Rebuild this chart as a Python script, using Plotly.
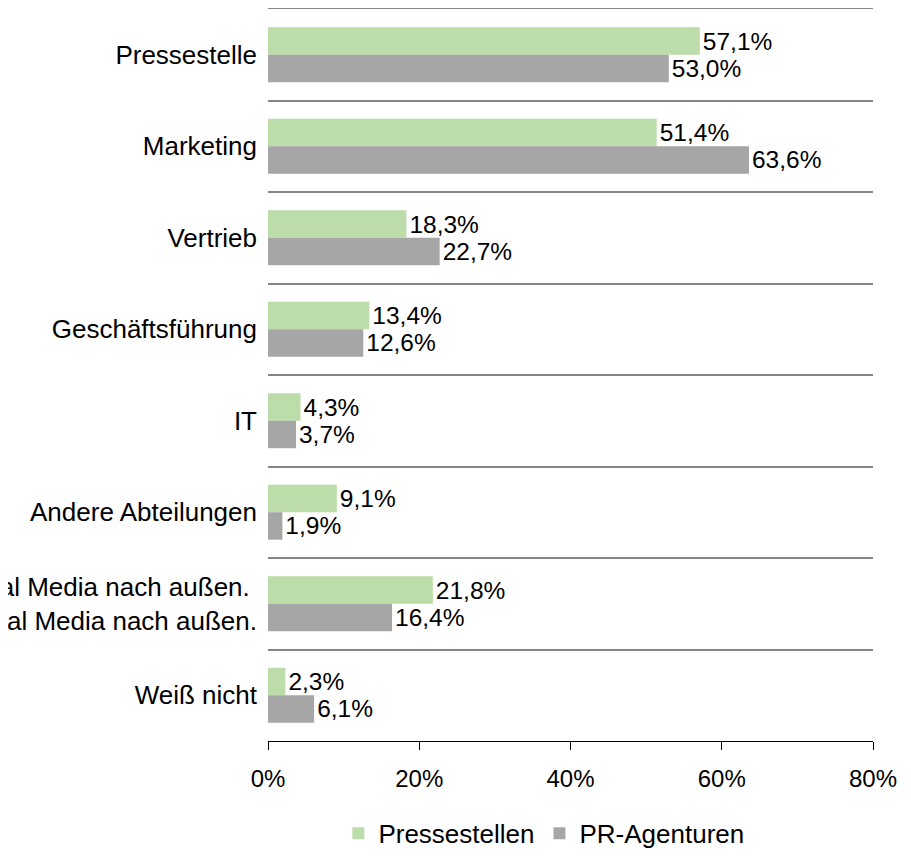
import plotly.graph_objects as go

categories = [
    "Pressestelle",
    "Marketing",
    "Vertrieb",
    "Geschäftsführung",
    "IT",
    "Andere Abteilungen",
    "Wir kommunizieren nicht über Social Media nach außen.\u00a0<br>Unsere Kunden kommunizieren nicht über Social Media nach außen.",
    "Weiß nicht",
]
pressestellen = [57.1, 51.4, 18.3, 13.4, 4.3, 9.1, 21.8, 2.3]
pr_agenturen = [53.0, 63.6, 22.7, 12.6, 3.7, 1.9, 16.4, 6.1]
x_ticks = [0, 20, 40, 60, 80]
x_tick_labels = [f"{v}%" for v in x_ticks]

FONT = "Liberation Sans, Arial, sans-serif"

fig = go.Figure()
fig.add_trace(go.Bar(
    name="Pressestellen", y=categories, x=pressestellen, orientation="h",
    marker=dict(color="#BCDCA9", line=dict(width=0)),
    texttemplate="%{x:.1f}%", textposition="outside",
    textfont=dict(size=24.5, color="black", family=FONT), cliponaxis=False,
))
fig.add_trace(go.Bar(
    name="PR-Agenturen", y=categories, x=pr_agenturen, orientation="h",
    marker=dict(color="#A6A6A6", line=dict(width=0)),
    texttemplate="%{x:.1f}%", textposition="outside",
    textfont=dict(size=24.5, color="black", family=FONT), cliponaxis=False,
))
# invisible helper trace so the top separator axis is drawn
fig.add_trace(go.Scatter(x=[0], y=[categories[0]], xaxis="x2", mode="markers",
                         marker=dict(opacity=0), showlegend=False, hoverinfo="skip"))

fig.update_layout(
    width=903, height=850,
    margin=dict(l=260, r=38, t=1, b=117),
    paper_bgcolor="white", plot_bgcolor="white",
    barmode="group", bargap=0.4, bargroupgap=0,
    separators=",.",
    font=dict(family=FONT, size=24, color="black"),
    showlegend=True,
    legend=dict(orientation="h", x=0.456, xanchor="center", y=-0.126, yanchor="middle",
                font=dict(size=26, color="black"), itemwidth=30, tracegroupgap=0),
    xaxis=dict(
        range=[0, 80], tickvals=x_ticks, ticktext=x_tick_labels,
        showgrid=False, zeroline=False,
        showline=True, linecolor="black", linewidth=1,
        ticks="outside", ticklen=8, tickcolor="black", tickwidth=1,
        tickfont=dict(size=24, color="black"), ticklabelstandoff=8, automargin=False,
    ),
    xaxis2=dict(
        overlaying="x", side="top", range=[0, 80], showline=True, linecolor="#868686",
        linewidth=1.5, showticklabels=False, ticks="", showgrid=False, zeroline=False,
        automargin=False,
    ),
    yaxis=dict(
        autorange="reversed", type="category",
        tickson="boundaries", showgrid=True, gridcolor="#868686", gridwidth=1.5,
        showline=False, zeroline=False, ticks="", ticklen=0,
        tickfont=dict(size=26, color="black"), ticklabelstandoff=10, automargin=False,
    ),
)

fig.write_html("out.html")
